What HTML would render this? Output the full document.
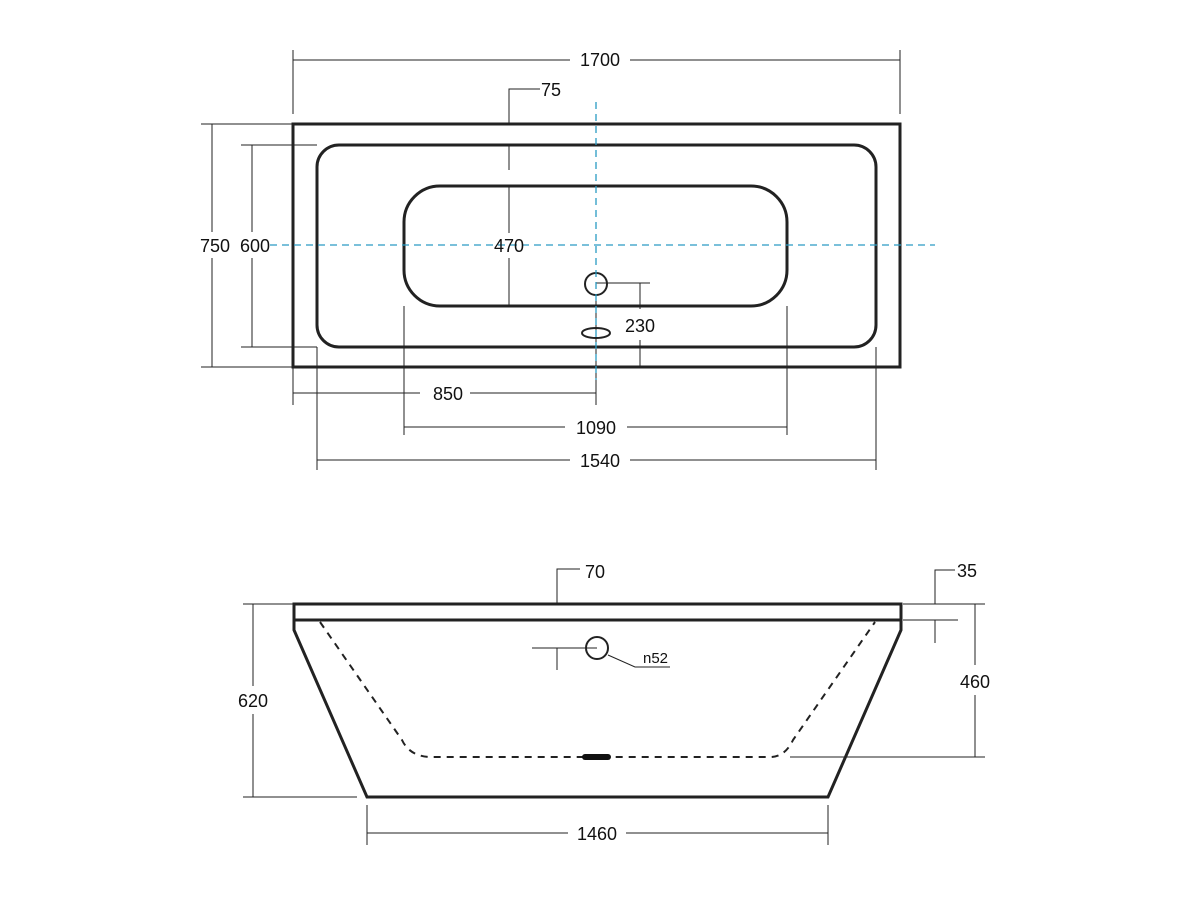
<!DOCTYPE html>
<html><head><style>body{margin:0;background:#fff}svg{display:block}text{font-family:"Liberation Sans",sans-serif;font-size:18px;fill:#111}</style></head><body>
<svg width="1200" height="900" viewBox="0 0 1200 900">
<g fill="none" stroke="#222">
<!-- top view shapes -->
<rect x="293" y="124" width="607" height="243" stroke-width="3"/>
<rect x="317" y="145" width="559" height="202" rx="22" stroke-width="3"/>
<rect x="404" y="186" width="383" height="120" rx="36" stroke-width="3"/>
<circle cx="596" cy="284" r="11" stroke-width="2"/>
<ellipse cx="596" cy="333" rx="14" ry="5" stroke-width="2"/>
<g stroke-width="1">
<!-- 1700 -->
<line x1="293" y1="50" x2="293" y2="114"/><line x1="900" y1="50" x2="900" y2="114"/>
<line x1="293" y1="60" x2="570" y2="60"/><line x1="630" y1="60" x2="900" y2="60"/>
<!-- 75 -->
<polyline points="540,89 509,89 509,124"/>
<line x1="509" y1="145" x2="509" y2="170"/>
<!-- 470 -->
<line x1="509" y1="186" x2="509" y2="233"/><line x1="509" y1="258" x2="509" y2="306"/>
<!-- 750 -->
<line x1="201" y1="124" x2="293" y2="124"/><line x1="201" y1="367" x2="293" y2="367"/>
<line x1="212" y1="124" x2="212" y2="232"/><line x1="212" y1="258" x2="212" y2="367"/>
<!-- 600 -->
<line x1="241" y1="145" x2="317" y2="145"/><line x1="241" y1="347" x2="317" y2="347"/>
<line x1="252" y1="145" x2="252" y2="232"/><line x1="252" y1="258" x2="252" y2="347"/>
<!-- 230 -->
<line x1="596" y1="283" x2="650" y2="283"/>
<line x1="640" y1="283" x2="640" y2="309"/><line x1="640" y1="340" x2="640" y2="367"/>
<!-- 850 -->
<line x1="293" y1="367" x2="293" y2="405"/>
<line x1="293" y1="393" x2="420" y2="393"/><line x1="470" y1="393" x2="596" y2="393"/>
<line x1="596" y1="295" x2="596" y2="405"/>
<!-- 1090 -->
<line x1="404" y1="306" x2="404" y2="435"/><line x1="787" y1="306" x2="787" y2="435"/>
<line x1="404" y1="427" x2="565" y2="427"/><line x1="627" y1="427" x2="787" y2="427"/>
<!-- 1540 -->
<line x1="317" y1="347" x2="317" y2="470"/><line x1="876" y1="347" x2="876" y2="470"/>
<line x1="317" y1="460" x2="570" y2="460"/><line x1="630" y1="460" x2="876" y2="460"/>
</g>
<g stroke="#2a9bc4" stroke-width="1.3" stroke-dasharray="7,5">
<line x1="596" y1="102" x2="596" y2="380"/>
<line x1="270" y1="245" x2="935" y2="245"/>
</g>
<!-- side view -->
<rect x="294" y="604" width="607" height="16" stroke-width="3"/>
<polyline points="294,620 294,630 367,797 828,797 901,630 901,620" stroke-width="3"/>
<path d="M320,622 L402,740 Q410,757 432,757 L770,757 Q785,757 793,740 L875,622" stroke-width="2" stroke-dasharray="7,6"/>
<line x1="585" y1="757" x2="608" y2="757" stroke-width="6" stroke-linecap="round" stroke="#111"/>
<circle cx="597" cy="648" r="11" stroke-width="2"/>
<g stroke-width="1">
<polyline points="580,569 557,569 557,604"/>
<line x1="532" y1="648" x2="597" y2="648"/><line x1="557" y1="648" x2="557" y2="670"/>
<polyline points="608,655 635,667 670,667"/>
<polyline points="955,570 935,570 935,604"/>
<line x1="903" y1="620" x2="958" y2="620"/><line x1="935" y1="620" x2="935" y2="643"/>
<line x1="903" y1="604" x2="985" y2="604"/><line x1="790" y1="757" x2="985" y2="757"/>
<line x1="975" y1="604" x2="975" y2="665"/><line x1="975" y1="695" x2="975" y2="757"/>
<line x1="243" y1="604" x2="294" y2="604"/><line x1="243" y1="797" x2="357" y2="797"/>
<line x1="253" y1="604" x2="253" y2="686"/><line x1="253" y1="714" x2="253" y2="797"/>
<line x1="367" y1="805" x2="367" y2="845"/><line x1="828" y1="805" x2="828" y2="845"/>
<line x1="367" y1="833" x2="568" y2="833"/><line x1="626" y1="833" x2="828" y2="833"/>
</g>
</g>
<text x="600" y="66" text-anchor="middle">1700</text>
<text x="541" y="96">75</text>
<text x="509" y="252" text-anchor="middle">470</text>
<text x="215" y="252" text-anchor="middle">750</text>
<text x="255" y="252" text-anchor="middle">600</text>
<text x="640" y="332" text-anchor="middle">230</text>
<text x="448" y="400" text-anchor="middle">850</text>
<text x="596" y="434" text-anchor="middle">1090</text>
<text x="600" y="467" text-anchor="middle">1540</text>
<text x="585" y="578">70</text>
<text x="957" y="577">35</text>
<text x="643" y="663" style="font-size:15px">n52</text>
<text x="975" y="688" text-anchor="middle">460</text>
<text x="253" y="707" text-anchor="middle">620</text>
<text x="597" y="840" text-anchor="middle">1460</text>
</svg>
</body></html>
